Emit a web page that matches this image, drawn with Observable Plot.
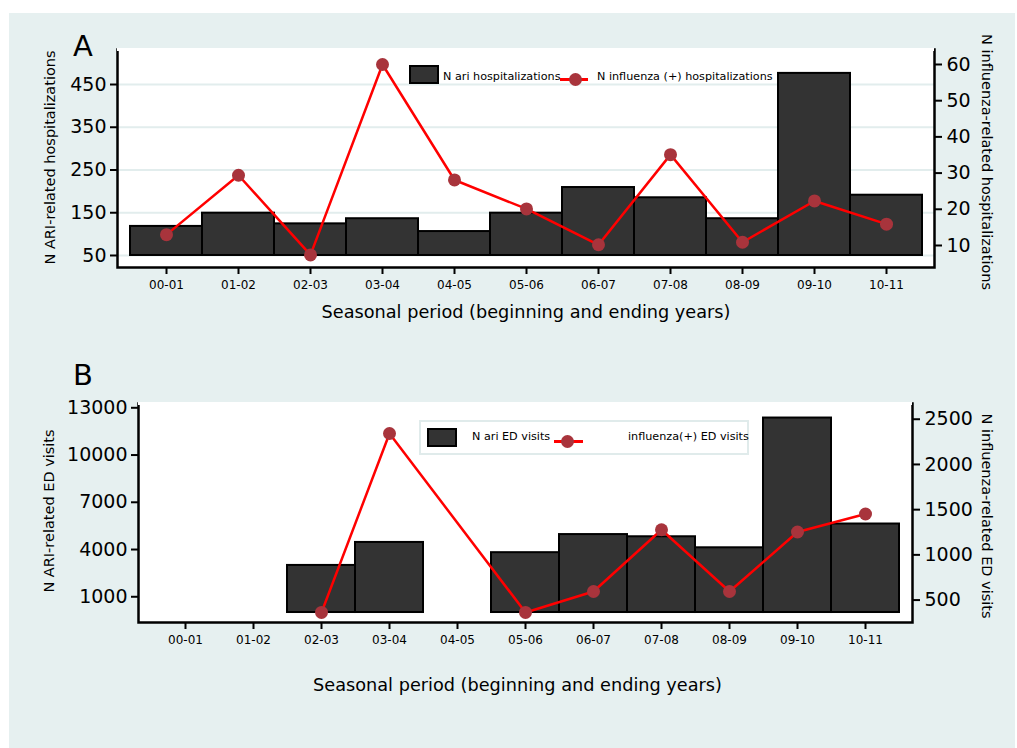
<!DOCTYPE html>
<html>
<head>
<meta charset="utf-8">
<script src="https://cdn.jsdelivr.net/npm/d3@7"></script>
<script src="https://cdn.jsdelivr.net/npm/@observablehq/plot@0.6"></script>
<style>
  body { margin: 0; background: #ffffff; font-family: "DejaVu Sans", sans-serif; }
  #bg { position: absolute; left: 9px; top: 13px; width: 1006px; height: 735px; background: #e6f0f0; }
  .panel { position: absolute; left: 0; }
  .abs { position: absolute; box-sizing: border-box; }
  .ltxt { position: absolute; font-size: 11.2px; line-height: 14px; color: #000; white-space: nowrap; }
</style>
</head>
<body>
<div id="bg"></div>
<div id="pa" class="panel" style="top:0px"></div>
<div id="pb" class="panel" style="top:340px"></div>
<script>
// ---------- data ----------
const seasons = ["00-01","01-02","02-03","03-04","04-05","05-06","06-07","07-08","08-09","09-10","10-11"];
const ariHosp = [118, 149, 124, 136, 106, 149, 209, 185, 136, 476, 191];
const fluHosp = [13, 29.4, 7.4, 60, 28.1, 20.1, 10.2, 35.1, 10.9, 22.3, 15.9];
const ariED   = [null, null, 2990, 4450, null, 3800, 4950, 4810, 4110, 12350, 5620];
const fluED   = [null, null, 363, 2342, null, 363, 595, 1278, 595, 1253, 1452];
const ticksHospLeft  = [50, 150, 250, 350, 450];
const ticksHospRight = [10, 20, 30, 40, 50, 60];
const ticksEDLeft    = [1000, 4000, 7000, 10000, 13000];
const ticksEDRight   = [500, 1000, 1500, 2000, 2500];
const xTitle = "Seasonal period (beginning and ending years)";

function panel(cfg) {
  const toLeft = d3.scaleLinear(cfg.rightDomain, cfg.leftDomain);
  const rows = seasons.map((s, i) => ({season: s, bar: cfg.bars[i], pt: cfg.points[i]}));
  const barRows = rows.filter(d => d.bar != null);
  const ptRows = rows.filter(d => d.pt != null);
  const txt = (s, o) => Plot.text([s], {text: d => d, textAnchor: "middle", lineAnchor: "middle", fill: "#000", ...o});
  return Plot.plot({
    width: 1017, height: cfg.height,
    marginTop: cfg.mt, marginRight: cfg.mr, marginBottom: cfg.mb, marginLeft: cfg.ml,
    style: {background: "transparent", fontFamily: '"DejaVu Sans", sans-serif', color: "#000", overflow: "visible"},
    x: {type: "band", domain: seasons, padding: 0, insetLeft: cfg.inset, insetRight: cfg.inset},
    y: {domain: cfg.leftDomain},
    marks: [
      Plot.frame({fill: "#ffffff", stroke: "none"}),
      cfg.grid ? Plot.gridY(cfg.leftTicks, {stroke: "#e2eded", strokeOpacity: 1, strokeWidth: 2}) : null,
      Plot.barY(barRows, {x: "season", y1: cfg.base, y2: "bar", fill: "#333333", stroke: "#000", strokeWidth: 2}),
      Plot.line(ptRows, {x: "season", y: d => toLeft(d.pt), stroke: "#ff0000", strokeWidth: 2.5}),
      Plot.dot(ptRows, {x: "season", y: d => toLeft(d.pt), r: 6.5, fill: "#a8343c", stroke: "none"}),
      Plot.frame({stroke: "#000", strokeWidth: 2.5}),
      Plot.ruleY([cfg.leftDomain[1]], {stroke: "#ffffff", strokeWidth: 3}),
      Plot.axisY({anchor: "left", ticks: cfg.leftTicks, tickFormat: d => String(d), tickSize: 7, tickPadding: 4, fontSize: 19, strokeWidth: 2, label: null}),
      Plot.axisY({anchor: "right", ticks: cfg.rightTicks.map(toLeft), tickFormat: d => String(Math.round(toLeft.invert(d))), tickSize: 7, tickPadding: 5, fontSize: 19, strokeWidth: 2, label: null}),
      Plot.axisX({tickSize: 7, tickPadding: 6, fontSize: 12, strokeWidth: 2, label: null}),
      txt(cfg.leftTitle, {frameAnchor: "left", rotate: -90, dx: cfg.ltDx, dy: cfg.ltDy, fontSize: 14.5}),
      txt(cfg.rightTitle, {frameAnchor: "right", rotate: 90, dx: cfg.rtDx, dy: cfg.rtDy, fontSize: 14.5}),
      txt(xTitle, {frameAnchor: "bottom", dx: cfg.xtDx, dy: cfg.xtDy, fontSize: 17.7}),
      txt(cfg.letter, {frameAnchor: "top-left", dx: cfg.lDx, dy: cfg.lDy, fontSize: 29})
    ]
  });
}

document.getElementById("pa").append(panel({
  height: 340, mt: 49, mr: 83, mb: 73, ml: 117, inset: 11,
  leftDomain: [21.9, 531.9], rightDomain: [3.92, 64.14],
  bars: ariHosp, points: fluHosp, base: 50, grid: true,
  leftTicks: ticksHospLeft, rightTicks: ticksHospRight,
  leftTitle: "N ARI-related hospitalizations", rightTitle: "N influenza-related hospitalizations",
  ltDx: -67, ltDy: -1, rtDx: 52, rtDy: 3.5, xtDx: 0, xtDy: 45,
  letter: "A", lDx: -34.5, lDy: -3
}));

document.getElementById("pb").append(panel({
  height: 408, mt: 63, mr: 105, mb: 126, ml: 138, inset: 13,
  leftDomain: [-634, 13273], rightDomain: [252, 2674],
  bars: ariED, points: fluED, base: 0, grid: false,
  leftTicks: ticksEDLeft, rightTicks: ticksEDRight,
  leftTitle: "N ARI-related ED visits", rightTitle: "N influenza-related ED visits",
  ltDx: -89, ltDy: -2, rtDx: 74, rtDy: 3, xtDx: -8, xtDy: 63,
  letter: "B", lDx: -55.5, lDy: -27.5
}));

// ---------- legends ----------
function el(cls, style, text) {
  const d = document.createElement("div");
  d.className = cls;
  Object.assign(d.style, style);
  if (text) d.textContent = text;
  document.body.append(d);
  return d;
}
function swatch(left, top) {
  el("abs", {left: left + "px", top: top + "px", width: "30px", height: "19px", background: "#333333", border: "2px solid #000"});
}
function lineSym(x1, x2, cx, cy) {
  el("abs", {left: x1 + "px", top: (cy - 1.5) + "px", width: (x2 - x1) + "px", height: "3px", background: "#ff0000"});
  el("abs", {left: (cx - 6.5) + "px", top: (cy - 6.5) + "px", width: "13px", height: "13px", borderRadius: "50%", background: "#a8343c"});
}
// Legend A
swatch(409, 65);
el("ltxt", {left: "443px", top: "70px"}, "N ari hospitalizations");
lineSym(560, 588, 575, 79);
el("ltxt", {left: "597px", top: "70px"}, "N influenza (+) hospitalizations");
// Legend B
el("abs", {left: "419px", top: "420px", width: "330px", height: "35px", background: "#ffffff", border: "2px solid #e0ebeb"});
swatch(427, 428);
el("ltxt", {left: "472px", top: "430px"}, "N ari ED visits");
lineSym(554, 583, 567, 441);
el("ltxt", {left: "628px", top: "430px"}, "influenza(+) ED visits");
</script>
</body>
</html>
